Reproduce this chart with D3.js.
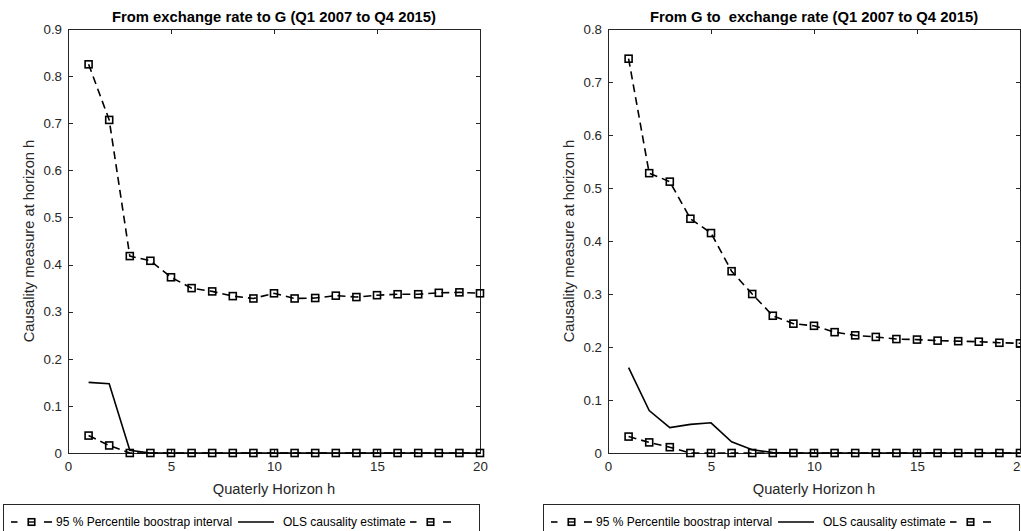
<!DOCTYPE html>
<html>
<head>
<meta charset="utf-8">
<script src="https://cdn.jsdelivr.net/npm/d3@7"></script>
<style>
  html, body { margin: 0; padding: 0; background: #fff; }
  svg { display: block; font-family: "Liberation Sans", Arial, Helvetica, sans-serif; }
  .title { white-space: pre; }
</style>
</head>
<body>
<svg id="chart" width="1021" height="531"></svg>
<script>
// Quarterly horizons h
const horizons = [1, 2, 3, 4, 5, 6, 7, 8, 9, 10, 11, 12, 13, 14, 15, 16, 17, 18, 19, 20];

// Panel 1: exchange rate -> G
const exToG_upper = [0.825, 0.707, 0.418, 0.408, 0.373, 0.350, 0.343, 0.333, 0.328, 0.339,
                     0.328, 0.329, 0.334, 0.331, 0.335, 0.337, 0.337, 0.340, 0.341, 0.339];
const exToG_ols   = [0.150, 0.147, 0.006, 0.000, 0.000, 0.000, 0.000, 0.000, 0.000, 0.000,
                     0.000, 0.000, 0.000, 0.000, 0.000, 0.000, 0.000, 0.000, 0.000, 0.000];
const exToG_lower = [0.037, 0.016, 0.000, 0.000, 0.000, 0.000, 0.000, 0.000, 0.000, 0.000,
                     0.000, 0.000, 0.000, 0.000, 0.000, 0.000, 0.000, 0.000, 0.000, 0.000];

// Panel 2: G -> exchange rate
const gToEx_upper = [0.744, 0.528, 0.512, 0.442, 0.415, 0.343, 0.300, 0.259, 0.244, 0.240,
                     0.228, 0.222, 0.219, 0.215, 0.214, 0.212, 0.211, 0.210, 0.208, 0.207];
const gToEx_ols   = [0.161, 0.080, 0.048, 0.054, 0.057, 0.021, 0.006, 0.001, 0.000, 0.000,
                     0.000, 0.000, 0.000, 0.000, 0.000, 0.000, 0.000, 0.000, 0.000, 0.000];
const gToEx_lower = [0.031, 0.020, 0.011, 0.000, 0.000, 0.000, 0.000, 0.000, 0.000, 0.000,
                     0.000, 0.000, 0.000, 0.000, 0.000, 0.000, 0.000, 0.000, 0.000, 0.000];

const xTicks = [0, 5, 10, 15, 20];
const yTicksLeft = [0, 0.1, 0.2, 0.3, 0.4, 0.5, 0.6, 0.7, 0.8, 0.9];
const yTicksRight = [0, 0.1, 0.2, 0.3, 0.4, 0.5, 0.6, 0.7, 0.8];

const titles = ["From exchange rate to G (Q1 2007 to Q4 2015)", "From G to  exchange rate (Q1 2007 to Q4 2015)"];
const xLabel = "Quaterly Horizon h";
const yLabel = "Causality measure at horizon h";
const legendLabels = ["95 % Percentile boostrap interval", "OLS causality estimate", ""];

const svg = d3.select("#chart");
const axisColor = "#262626";

const panels = [
  { left: 68, right: 480, top: 29, bottom: 453, ymax: 0.9, yTicks: yTicksLeft,
    upper: exToG_upper, ols: exToG_ols, lower: exToG_lower, title: titles[0], legendX: 3 },
  { left: 608, right: 1020, top: 29, bottom: 453, ymax: 0.8, yTicks: yTicksRight,
    upper: gToEx_upper, ols: gToEx_ols, lower: gToEx_lower, title: titles[1], legendX: 543 }
];

const fmt = d => d === 0 ? "0" : d3.format(".1f")(d);

function drawSquare(g, x, y, size) {
  g.append("rect")
    .attr("x", x - size / 2).attr("y", y - size / 2)
    .attr("width", size).attr("height", size)
    .attr("fill", "none").attr("stroke", "#000").attr("stroke-width", 1.6);
}

panels.forEach(p => {
  const g = svg.append("g");
  const x = d3.scaleLinear().domain([0, 20]).range([p.left, p.right]);
  const y = d3.scaleLinear().domain([0, p.ymax]).range([p.bottom, p.top]);
  const tl = 4.5;

  // axes on all four sides, ticks pointing inward
  const axB = g.append("g").attr("transform", `translate(0,${p.bottom})`)
    .call(d3.axisBottom(x).tickValues(xTicks).tickFormat(d3.format("d")).tickSize(-tl).tickPadding(9));
  const axT = g.append("g").attr("transform", `translate(0,${p.top})`)
    .call(d3.axisTop(x).tickValues(xTicks).tickFormat("").tickSize(-tl));
  const axL = g.append("g").attr("transform", `translate(${p.left},0)`)
    .call(d3.axisLeft(y).tickValues(p.yTicks).tickFormat(fmt).tickSize(-tl).tickPadding(6));
  const axR = g.append("g").attr("transform", `translate(${p.right},0)`)
    .call(d3.axisRight(y).tickValues(p.yTicks).tickFormat("").tickSize(-tl));
  [axB, axT, axL, axR].forEach(a => {
    a.select(".domain").attr("stroke", axisColor).attr("stroke-width", 1).attr("shape-rendering", "crispEdges");
    a.selectAll(".tick line").attr("stroke", axisColor).attr("shape-rendering", "crispEdges");
    a.selectAll(".tick text").attr("fill", axisColor).attr("font-size", "13.3px")
      .attr("font-family", "'Liberation Sans', Arial, Helvetica, sans-serif");
  });

  const line = d3.line().x((d, i) => x(horizons[i])).y(d => y(d));

  // upper bound
  g.append("path").datum(p.upper).attr("d", line)
    .attr("fill", "none").attr("stroke", "#000").attr("stroke-width", 1.6).attr("stroke-dasharray", "8,5");
  p.upper.forEach((v, i) => drawSquare(g, x(horizons[i]), y(v), 7));

  // OLS estimate
  g.append("path").datum(p.ols).attr("d", line)
    .attr("fill", "none").attr("stroke", "#000").attr("stroke-width", 1.6);

  // lower bound
  g.append("path").datum(p.lower).attr("d", line)
    .attr("fill", "none").attr("stroke", "#000").attr("stroke-width", 1.6).attr("stroke-dasharray", "8,5");
  p.lower.forEach((v, i) => drawSquare(g, x(horizons[i]), y(v), 7));

  const cx = (p.left + p.right) / 2;
  g.append("text").attr("class", "title")
    .attr("x", cx).attr("y", 21.5).attr("text-anchor", "middle")
    .attr("font-weight", "bold").attr("font-size", "14.8px").attr("fill", "#000")
    .text(p.title);

  g.append("text").attr("x", cx).attr("y", 494).attr("text-anchor", "middle")
    .attr("font-size", "14.7px").attr("fill", axisColor).text(xLabel);

  g.append("text")
    .attr("transform", `translate(${p.left - 34},${(p.top + p.bottom) / 2}) rotate(-90)`)
    .attr("text-anchor", "middle").attr("font-size", "14.7px").attr("fill", axisColor)
    .text(yLabel);

  // legend
  const lg = g.append("g").attr("transform", `translate(${p.legendX},504)`);
  lg.append("rect").attr("x", 0.5).attr("y", 0.5).attr("width", 476).attr("height", 44)
    .attr("fill", "#fff").attr("stroke", axisColor).attr("stroke-width", 1).attr("shape-rendering", "crispEdges");
  const ly = 18;
  const dashedSym = x0 => {
    lg.append("line").attr("x1", x0).attr("x2", x0 + 6.5).attr("y1", ly).attr("y2", ly)
      .attr("stroke", "#000").attr("stroke-width", 1.6);
    lg.append("line").attr("x1", x0 + 33).attr("x2", x0 + 41).attr("y1", ly).attr("y2", ly)
      .attr("stroke", "#000").attr("stroke-width", 1.6);
    drawSquare(lg, x0 + 20.5, ly, 6.5);
    lg.append("line").attr("x1", x0 + 17.5).attr("x2", x0 + 23.5).attr("y1", ly).attr("y2", ly)
      .attr("stroke", "#000").attr("stroke-width", 1.4);
  };
  dashedSym(8);
  lg.append("text").attr("x", 53).attr("y", ly + 4.2).attr("font-size", "12px").attr("fill", "#000")
    .text(legendLabels[0]);
  lg.append("line").attr("x1", 235).attr("x2", 271).attr("y1", ly).attr("y2", ly)
    .attr("stroke", "#000").attr("stroke-width", 1.6);
  lg.append("text").attr("x", 280).attr("y", ly + 4.2).attr("font-size", "12px").attr("fill", "#000")
    .text(legendLabels[1]);
  dashedSym(407);
  lg.append("text").attr("x", 452).attr("y", ly + 4.2).attr("font-size", "12px").text(legendLabels[2]);
});
</script>
</body>
</html>
